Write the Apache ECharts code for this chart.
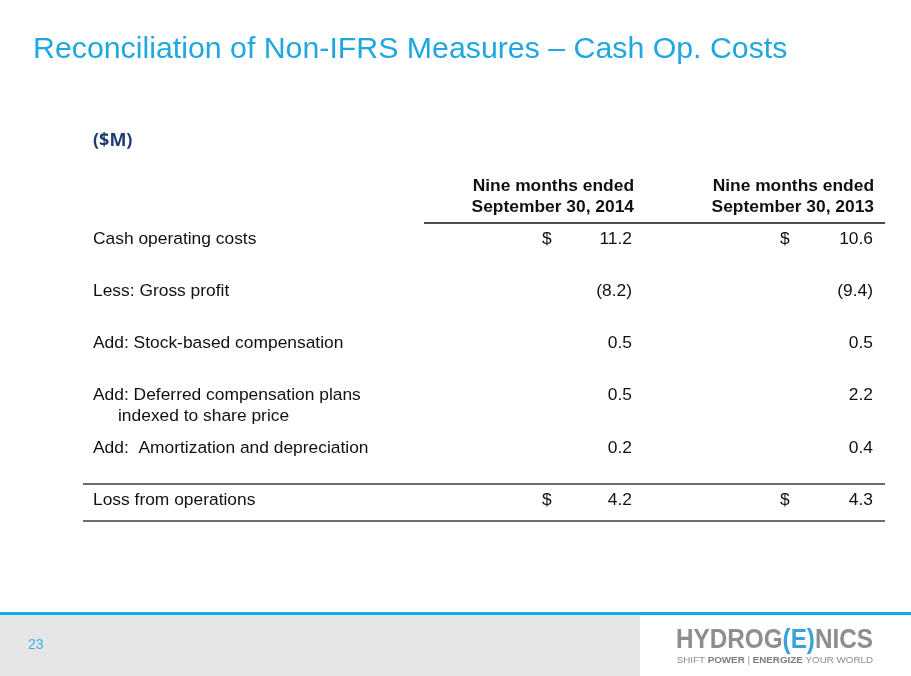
<!DOCTYPE html>
<html>
<head>
<meta charset="utf-8">
<script src="https://cdn.jsdelivr.net/npm/echarts@6/dist/echarts.min.js"></script>
<style>
  html, body { margin: 0; padding: 0; background: #fff; }
  #main { width: 911px; height: 676px; }
</style>
</head>
<body>
<div id="main"></div>
<script>
// table content
var rowLabels = [
  'Cash operating costs',
  'Less: Gross profit',
  'Add: Stock-based compensation',
  'Add: Deferred compensation plans',
  'Add:  Amortization and depreciation',
  'Loss from operations'
];
var rowSubLabels = ['', '', '', 'indexed to share price', '', ''];
var values2014 = [11.2, -8.2, 0.5, 0.5, 0.2, 4.2];
var values2013 = [10.6, -9.4, 0.5, 2.2, 0.4, 4.3];
var dollarRows = [true, false, false, false, false, true];
var header2014 = ['Nine months ended', 'September 30, 2014'];
var header2013 = ['Nine months ended', 'September 30, 2013'];

var BODY_FONT = '17.4px "Liberation Sans", Arial, sans-serif';
var HEAD_FONT = 'bold 17.4px "Liberation Sans", Arial, sans-serif';
var TEXT = '#111111';

function fmt(v) {
  return v < 0 ? '(' + Math.abs(v).toFixed(1) + ')' : v.toFixed(1);
}

var chart = echarts.init(document.getElementById('main'));

function headerText(lines, right) {
  return lines.map(function (t, i) {
    return {
      type: 'text',
      style: { text: t, x: right, y: 186 + i * 21, align: 'right', verticalAlign: 'middle', font: HEAD_FONT, fill: TEXT }
    };
  });
}

chart.setOption({
  backgroundColor: '#ffffff',
  animation: false,
  grid: { left: 83, right: 26, top: 213, height: 313 },
  xAxis: { type: 'value', min: 0, max: 1, show: false },
  yAxis: {
    type: 'category',
    inverse: true,
    data: rowLabels,
    show: false
  },
  series: [{
    type: 'custom',
    data: rowLabels.map(function (l, i) { return [0, i]; }),
    renderItem: function (params, api) {
      var i = api.value(1);
      var y = api.coord([0, i])[1];
      var kids = [
        { type: 'text', style: { text: rowLabels[i], x: 93, y: y, verticalAlign: 'middle', font: BODY_FONT, fill: TEXT } },
        { type: 'text', style: { text: fmt(values2014[i]), x: 632, y: y, align: 'right', verticalAlign: 'middle', font: BODY_FONT, fill: TEXT } },
        { type: 'text', style: { text: fmt(values2013[i]), x: 873, y: y, align: 'right', verticalAlign: 'middle', font: BODY_FONT, fill: TEXT } }
      ];
      if (rowSubLabels[i]) {
        kids.push({ type: 'text', style: { text: rowSubLabels[i], x: 118, y: y + 21, verticalAlign: 'middle', font: BODY_FONT, fill: TEXT } });
      }
      if (dollarRows[i]) {
        kids.push({ type: 'text', style: { text: '$', x: 542, y: y, verticalAlign: 'middle', font: BODY_FONT, fill: TEXT } });
        kids.push({ type: 'text', style: { text: '$', x: 780, y: y, verticalAlign: 'middle', font: BODY_FONT, fill: TEXT } });
      }
      return { type: 'group', children: kids };
    }
  }],
  graphic: [
    { type: 'text', style: { text: 'Reconciliation of Non-IFRS Measures \u2013 Cash Op. Costs', x: 33, y: 50, verticalAlign: 'middle', font: '30.3px "Liberation Sans", Arial, sans-serif', fill: '#1ea7e1' } },
    { type: 'text', style: { text: '($M)', x: 93, y: 141, verticalAlign: 'middle', font: 'bold 18px "Open Sans", "Liberation Sans", sans-serif', fill: '#1f3a6e' } }
  ]
  .concat(headerText(header2014, 634))
  .concat(headerText(header2013, 874))
  .concat([
    { type: 'line', shape: { x1: 424, y1: 223, x2: 885, y2: 223 }, style: { stroke: '#111', lineWidth: 1.3 } },
    { type: 'line', shape: { x1: 83, y1: 484, x2: 885, y2: 484 }, style: { stroke: '#6e6e6e', lineWidth: 2 } },
    { type: 'line', shape: { x1: 83, y1: 521, x2: 885, y2: 521 }, style: { stroke: '#6e6e6e', lineWidth: 2 } },
    // footer
    { type: 'rect', shape: { x: 0, y: 615, width: 640, height: 61 }, style: { fill: '#e6e6e6' } },
    { type: 'rect', shape: { x: 0, y: 612, width: 911, height: 3 }, style: { fill: '#0aaeef' } },
    { type: 'text', style: { text: '23', x: 28, y: 645, verticalAlign: 'middle', font: '14px "Liberation Sans", Arial, sans-serif', fill: '#36b4e6' } },
    {
      type: 'text',
      x: 873, y: 641, scaleX: 0.9,
      style: {
        text: '{g|HYDROG}{p|(}{e|E}{p|)}{g|NICS}',
        x: 0, y: 0, align: 'right', verticalAlign: 'middle',
        rich: {
          g: { font: 'bold 27px "Liberation Sans", Arial, sans-serif', fill: '#8b8e92' },
          p: { font: 'bold 27px "Liberation Sans", Arial, sans-serif', fill: '#3aa2da' },
          e: { font: 'bold 27px "Liberation Sans", Arial, sans-serif', fill: '#3aa2da' }
        }
      }
    },
    {
      type: 'text',
      style: {
        text: '{n|SHIFT }{b|POWER}{n| | }{b|ENERGIZE}{n| YOUR WORLD}',
        x: 873, y: 660, align: 'right', verticalAlign: 'middle',
        rich: {
          n: { font: '9.8px "Liberation Sans", Arial, sans-serif', fill: '#8b8e92' },
          b: { font: 'bold 9.8px "Liberation Sans", Arial, sans-serif', fill: '#7a7d81' }
        }
      }
    }
  ])
});
</script>
</body>
</html>
